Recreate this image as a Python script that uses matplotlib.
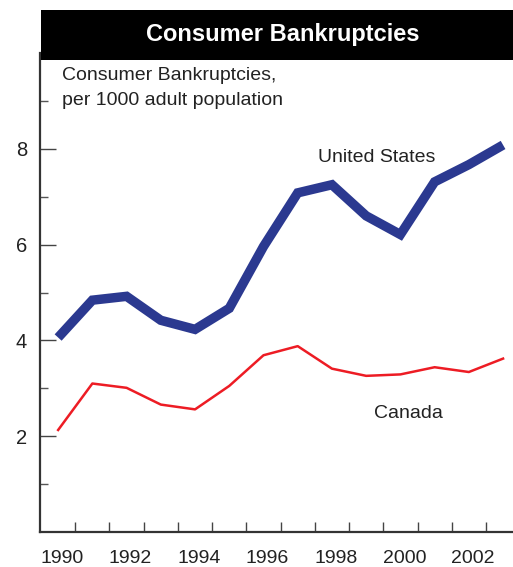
import matplotlib
matplotlib.use("Agg")
import matplotlib.pyplot as plt
import matplotlib.transforms as mtransforms
from matplotlib.ticker import FixedLocator

plt.rcParams['font.family'] = ['Liberation Sans', 'DejaVu Sans']

years = list(range(1990, 2004))
us = [4.06, 4.84, 4.92, 4.42, 4.23, 4.67, 5.96, 7.08, 7.25, 6.60, 6.21, 7.31, 7.67, 8.08]
canada = [2.13, 3.10, 3.01, 2.66, 2.56, 3.05, 3.69, 3.88, 3.41, 3.26, 3.29, 3.44, 3.34, 3.62]
xlabel_years = [1990, 1992, 1994, 1996, 1998, 2000, 2002]
ymajor = [2, 4, 6, 8]
yminor = [1, 3, 5, 7, 9]
title = "Consumer Bankruptcies"

W, H = 513, 567
fig = plt.figure(figsize=(W / 100, H / 100), dpi=100)

ax = fig.add_axes([40 / W, (H - 532) / H, 473 / W, 479 / H])
ax.plot(years, us, color='#2b3990', lw=6.8, solid_joinstyle='miter', solid_capstyle='butt', zorder=3)
ax.plot(years, canada, color='#ed1c24', lw=1.8, zorder=3)

ax.set_xlim(1989.47, 2003.29)
ax.set_ylim(0, 10)

for s in ['top', 'right']:
    ax.spines[s].set_visible(False)
for s in ['left', 'bottom']:
    ax.spines[s].set_color('#333333')
    ax.spines[s].set_linewidth(1.6)

ax.set_xticks(xlabel_years)
ax.set_xticklabels([str(y) for y in xlabel_years])
ax.xaxis.set_minor_locator(FixedLocator([y + 0.5 for y in range(1990, 2003)]))
ax.tick_params(axis='x', which='major', length=0, pad=13, labelsize=14, labelcolor='#222222')
ax.tick_params(axis='x', which='minor', direction='in', length=7.2, width=1.0, color='#444444')
shift = mtransforms.ScaledTranslation(4 / 100, 0, fig.dpi_scale_trans)
for lab in ax.get_xticklabels():
    lab.set_transform(lab.get_transform() + shift)

ax.set_yticks(ymajor)
ax.set_yticklabels([str(v) for v in ymajor])
ax.yaxis.set_minor_locator(FixedLocator(yminor))
ax.tick_params(axis='y', which='major', direction='in', length=11.5, width=1.0, color='#444444',
               pad=9.4, labelsize=14.5, labelcolor='#222222')
ax.tick_params(axis='y', which='minor', direction='in', length=5.8, width=1.0, color='#555555')

fig.text(62 / W, 1 - 75 / H, "Consumer Bankruptcies,", ha='left', va='center',
         fontsize=14, color='#222222')
fig.text(62 / W, 1 - 101 / H, "per 1000 adult population", ha='left', va='center',
         fontsize=14, color='#222222')
fig.text(377 / W, 1 - 158 / H, "United States", ha='center', va='center',
         fontsize=14, color='#222222')
fig.text(408 / W, 1 - 414 / H, "Canada", ha='center', va='center',
         fontsize=14, color='#222222')

tax = fig.add_axes([41 / W, 1 - 60 / H, 472 / W, 50 / H])
tax.set_facecolor('black')
tax.set_xticks([])
tax.set_yticks([])
for s in tax.spines.values():
    s.set_visible(False)
tax.text(0.513, 0.5, title, transform=tax.transAxes, ha='center', va='center',
         fontsize=17, fontweight='bold', color='white')

fig.savefig("out.png", dpi=100, facecolor='white')
